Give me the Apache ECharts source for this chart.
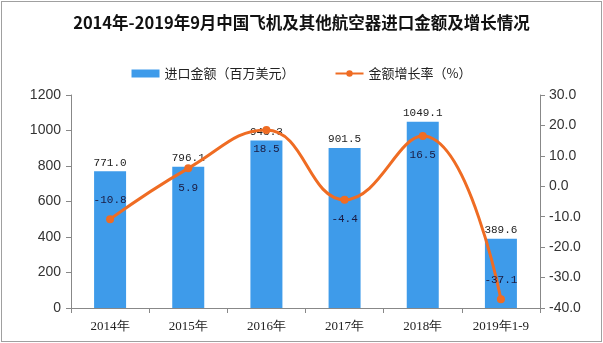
<!DOCTYPE html>
<html><head><meta charset="utf-8">
<script src="https://cdn.jsdelivr.net/npm/echarts@6/dist/echarts.min.js"></script>
<style>
html,body{margin:0;padding:0;background:#fff;}
#c{width:603px;height:343px;}
#frame{position:absolute;left:1px;top:1px;width:599px;height:339px;border:1px solid #a0a0a0;pointer-events:none;}
</style></head>
<body>
<div id="c"></div><div id="frame"></div>
<script>
const categories = ['2014年','2015年','2016年','2017年','2018年','2019年1-9'];
const importValues = [771.0, 796.1, 943.3, 901.5, 1049.1, 389.6];
const growthRates = [-10.8, 5.9, 18.5, -4.4, 16.5, -37.1];
const growthLabelPos = ['top','bottom','bottom','bottom','bottom','top'];
const titleText = '2014年-2019年9月中国飞机及其他航空器进口金额及增长情况';
const barName = '进口金额（百万美元）';
const lineName = '金额增长率（%）';

const chart = echarts.init(document.getElementById('c'), null, {renderer:'canvas'});
const monoLabel = {fontFamily:'Liberation Mono', fontSize:11, color:'#222'};
chart.setOption({
  animation:false,
  backgroundColor:'#fff',
  title:{text:titleText,left:'center',top:9,textStyle:{fontFamily:'Noto Sans CJK SC',fontSize:16.5,fontWeight:'bold',color:'#111'}},
  legend:{top:62,left:'center',itemGap:40,itemWidth:28,itemHeight:8,
    textStyle:{fontFamily:'Noto Sans CJK SC',fontSize:13,color:'#222'},
    data:[{name:barName,icon:'rect'},{name:lineName}]},
  grid:{left:71,right:63,top:95,bottom:35},
  xAxis:{type:'category',data:categories,
    axisLine:{lineStyle:{color:'#888'}},
    axisTick:{show:true,lineStyle:{color:'#888'}},
    axisLabel:{color:'#222',fontFamily:'Liberation Serif',fontSize:13,margin:12}},
  yAxis:[
    {type:'value',min:0,max:1200,interval:200,
     axisLine:{show:true,lineStyle:{color:'#888'}},axisTick:{show:true,lineStyle:{color:'#888'}},
     splitLine:{show:false},
     axisLabel:{color:'#333',fontFamily:'Liberation Sans',fontSize:14,margin:10,formatter:v=>String(v)}},
    {type:'value',min:-40,max:30,interval:10,
     axisLine:{show:true,lineStyle:{color:'#888'}},axisTick:{show:true,lineStyle:{color:'#888'}},
     splitLine:{show:false},
     axisLabel:{color:'#333',fontFamily:'Liberation Sans',fontSize:14,margin:9,formatter:v=>v.toFixed(1)}}
  ],
  series:[
    {name:barName,type:'bar',data:importValues,barWidth:32,
     itemStyle:{color:'#3e9bea'},
     label:{show:true,position:'top',distance:3,formatter:p=>p.value.toFixed(1),...monoLabel}},
    {name:lineName,type:'line',yAxisIndex:1,smooth:0.45,
     data:growthRates.map((v,i)=>({value:v,label:{position:growthLabelPos[i]}})),
     symbol:'circle',symbolSize:8,
     lineStyle:{color:'#ef6c23',width:3},itemStyle:{color:'#ef6c23'},
     label:{show:true,distance:10,formatter:p=>p.value.toFixed(1),...monoLabel,color:'#1a1a40'}}
  ]
});
</script>
</body></html>
